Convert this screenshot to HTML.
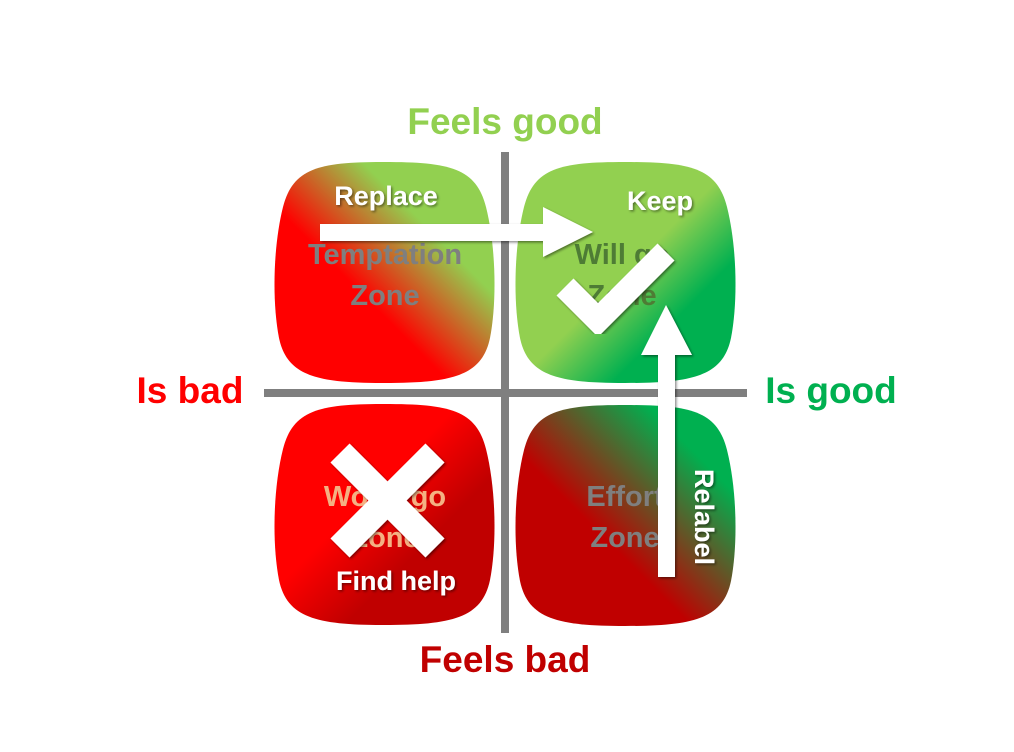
<!DOCTYPE html>
<html><head><meta charset="utf-8"><style>
html,body{margin:0;padding:0;background:#fff;}
svg{display:block;}
text{font-family:"Liberation Sans",sans-serif;font-weight:bold;}
</style></head><body>
<svg width="1014" height="752" viewBox="0 0 1014 752" xmlns="http://www.w3.org/2000/svg">
<defs>
<linearGradient id="gTL" x1="0" y1="1" x2="1" y2="0">
<stop offset="0.4" stop-color="#ff0000"/><stop offset="0.7" stop-color="#92d050"/></linearGradient>
<linearGradient id="gTR" x1="0" y1="0" x2="1" y2="1">
<stop offset="0.5" stop-color="#92d050"/><stop offset="0.72" stop-color="#00b050"/></linearGradient>
<linearGradient id="gBL" x1="0" y1="0" x2="1" y2="1">
<stop offset="0.42" stop-color="#ff0000"/><stop offset="0.66" stop-color="#c00000"/></linearGradient>
<linearGradient id="gBR" x1="0" y1="1" x2="1" y2="0">
<stop offset="0.4" stop-color="#c00000"/><stop offset="0.8" stop-color="#00b050"/></linearGradient>
<filter id="sh" x="-20%" y="-20%" width="140%" height="140%"><feDropShadow dx="1.5" dy="1.5" stdDeviation="1.2" flood-color="#000" flood-opacity="0.45"/></filter>
<path id="sq" d="M112,0 C178,0 204,6 214,45 C224,85 225,140 218,176 C210,214 180,221 112,221 C45,221 15,214 7,176 C0,140 1,85 11,45 C21,6 47,0 112,0 Z"/>
</defs>

<rect x="501" y="152" width="8" height="481" fill="#7f7f7f"/>
<rect x="264" y="389" width="483" height="8" fill="#7f7f7f"/>

<use href="#sq" x="272" y="162" fill="url(#gTL)"/>
<use href="#sq" x="513" y="162" fill="url(#gTR)"/>
<use href="#sq" x="272" y="404" fill="url(#gBL)"/>
<use href="#sq" x="513" y="405" fill="url(#gBR)"/>

<g font-size="29" text-anchor="middle">
<text x="385" y="264" fill="#7f7f7f">Temptation</text>
<text x="385" y="305" fill="#7f7f7f">Zone</text>
<text x="622" y="264" fill="#4e7c35">Will go</text>
<text x="622" y="305" fill="#4e7c35">Zone</text>
<text x="385" y="506" fill="#f4b183">Won't go</text>
<text x="385" y="547" fill="#f4b183">Zone</text>
<text x="625" y="506" fill="#7f7f7f">Effort</text>
<text x="625" y="547" fill="#7f7f7f">Zone</text>
</g>

<polygon filter="url(#sh)" fill="#fff" points="320,224 543,224 543,207 593,232 543,257 543,241 320,241"/>
<polygon filter="url(#sh)" fill="#fff" points="658,577 658,355 641,355 666,305 692,355 675,355 675,577"/>

<polyline filter="url(#sh)" points="565,287 598,320 666,252" fill="none" stroke="#fff" stroke-width="24"/>
<g filter="url(#sh)" stroke="#fff" stroke-width="27">
<line x1="340" y1="453" x2="435" y2="548"/>
<line x1="435" y1="453" x2="340" y2="548"/>
</g>

<g fill="#fff" font-size="27" filter="url(#sh)" text-anchor="middle">
<text x="386" y="205">Replace</text>
<text x="660" y="210">Keep</text>
<text x="396" y="590">Find help</text>
<text transform="translate(695,517) rotate(90)">Relabel</text>
</g>

<g font-size="37" text-anchor="middle">
<text x="505" y="134" fill="#92d050">Feels good</text>
<text x="505" y="672" fill="#c00000">Feels bad</text>
<text x="190" y="403" fill="#ff0000">Is bad</text>
<text x="831" y="403" fill="#00b050">Is good</text>
</g>
</svg>
</body></html>
